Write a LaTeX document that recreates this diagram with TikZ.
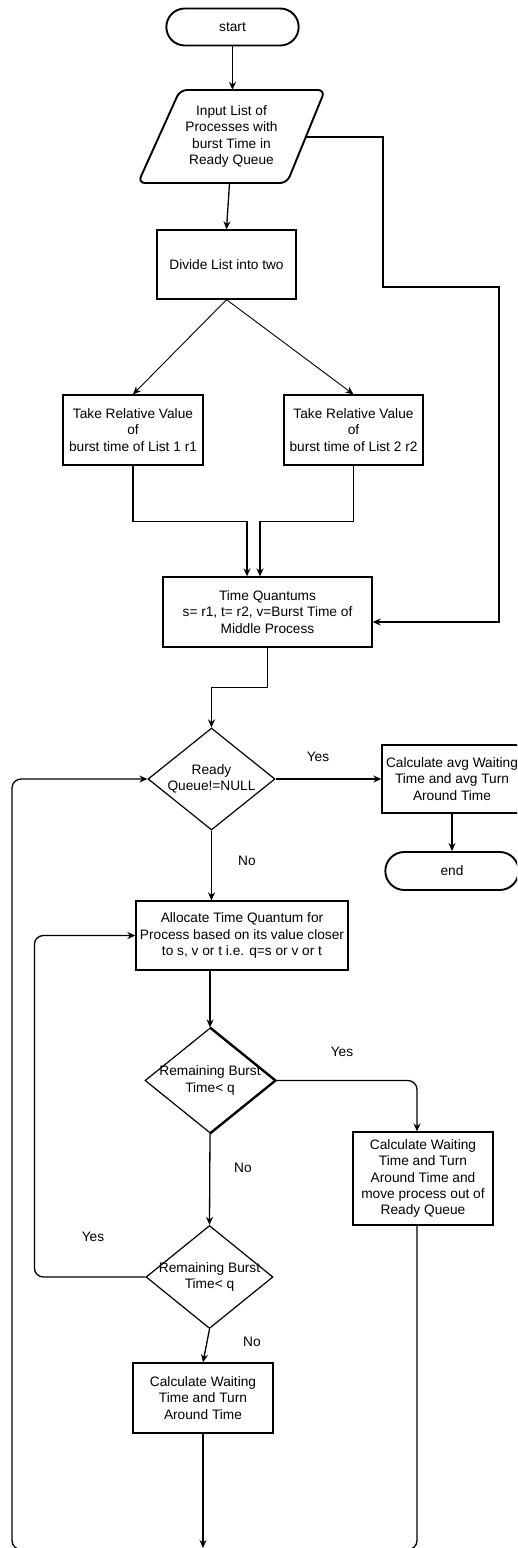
\documentclass[tikz,border=0pt]{standalone}
\usepackage{fontspec}
\setmainfont{Liberation Sans}
\usetikzlibrary{shapes.geometric,shapes.misc,arrows.meta,calc}
\begin{document}
\begin{tikzpicture}[x=1pt,y=1pt,
  every node/.style={font=\fontsize{13.7}{16.3}\selectfont, align=center, text=black},
  box/.style={draw, line width=1.3pt, minimum width=140pt, minimum height=70pt, inner sep=1pt},
  term/.style={draw, rounded rectangle, line width=1.9pt, minimum width=139pt, minimum height=37pt},
  dia/.style={draw, diamond, line width=1.2pt, inner sep=0pt},
  arr/.style={line width=1.3pt, -{Stealth[length=8pt,width=7pt]}},
  thinarr/.style={line width=0.9pt, -{Stealth[length=8pt,width=7pt]}},
  lab/.style={inner sep=0pt}
]
\useasboundingbox (0,0) rectangle (517,-1548);
\clip (0,0) rectangle (517,-1548);

% nodes
\node[term] (start) at (232.5,-27) {start};
\draw[line width=1.9pt, rounded corners=7pt] (180,-90) -- (325,-90) -- (287,-183) -- (138,-183) -- cycle;
\node[minimum height=93pt, inner sep=0pt] (inp) at (231.5,-136.5)
      {Input List of\\Processes with\\burst Time in\\Ready Queue};
\coordinate (inpE) at (306,-137);
\node[box, minimum width=139pt, minimum height=69pt] (div) at (226.5,-264.5) {Divide List into two};
\node[box] (l1) at (133,-430) {Take Relative Value\\of\\burst time of List 1 r1};
\node[box, minimum width=139pt] (r1) at (353.5,-430) {Take Relative Value\\of\\burst time of List 2 r2};
\node[box, minimum width=209pt] (tq) at (267.5,-612) {Time Quantums\\s= r1, t= r2, v=Burst Time of\\Middle Process};
\node[dia, minimum width=127pt, minimum height=102pt] (d1) at (211.5,-779) {};
\node at (d1) {Ready\\Queue!=NULL};
\node[box, minimum height=68pt] (avg) at (452,-779) {Calculate avg Waiting\\Time and avg Turn\\Around Time};
\node[term, minimum width=140pt, minimum height=38pt] (end) at (452,-871) {end};
\node[box, minimum width=212pt, minimum height=69pt] (alloc) at (242,-935.5) {Allocate Time Quantum for\\Process based on its value closer\\to s, v or t i.e. q=s or v or t};
\node[dia, minimum width=130pt, minimum height=105pt] (d2) at (210,-1080.5) {};
\draw[line width=2.2pt] (d2.north) -- (d2.east) -- (d2.south);
\node at (d2) {Remaining Burst\\Time< q};
\node[box, minimum height=93pt] (box2) at (423,-1178.5) {Calculate Waiting\\Time and Turn\\Around Time and\\move process out of\\Ready Queue};
\node[dia, minimum width=127pt, minimum height=103pt] (d3) at (209.5,-1277) {};
\node at (d3) {Remaining Burst\\Time< q};
\node[box] (box3) at (203,-1398) {Calculate Waiting\\Time and Turn\\Around Time};
\coordinate (bot) at (203,-1548);
\coordinate (bl) at (12,-1549.5);

% labels
\node[lab] (yes1) at (318,-757) {Yes};
\node[lab] (no1) at (247,-861) {No};
\node[lab] (yes2) at (342,-1052) {Yes};
\node[lab] (no2) at (243,-1168) {No};
\node[lab] (yes3) at (93,-1237) {Yes};
\node[lab] (no3) at (252,-1342) {No};

% connectors
\draw[arr] (start.south) -- (start.south |- inp.north);
\draw[arr] ([xshift=-2pt]inp.south) -- (div.north);
\draw[arr] (inpE) -| (383,-287) -- (499,-287) |- ([yshift=-10pt]tq.east);
\draw[thinarr] (div.south) -- (l1.north);
\draw[thinarr] (div.south) -- (r1.north);
\draw[arr] (l1.south) -- ++(0,-56) -| ([xshift=-20.5pt]tq.north);
\draw[arr] (r1.south) -- ++(0,-56) -| ([xshift=-7.5pt]tq.north);
\draw[arr] (tq.south) -- ++(0,-40) -| (d1.north);
\draw[arr] (d1.east) -- (d1.east -| avg.west);
\draw[arr] (avg.south) -- (end.north);
\draw[arr] (d1.south) -- (d1.south |- alloc.north);
\draw[arr] (alloc.south -| d2.north) -- (d2.north);
\draw[arr, rounded corners=9pt] (d2.east) -| ([xshift=-6pt]box2.north);
\draw[arr] (d2.south) -- (d3.north);
\draw[arr, rounded corners=9pt] (d3.west) -- ++(-111,0) |- (alloc.west);
\draw[arr] (d3.south) -- (box3.north);
\draw[arr] (box3.south) -- (bot);
\draw[arr, rounded corners=9pt] ([xshift=-6pt]box2.south) |- (bl) |- (d1.west);
\end{tikzpicture}
\end{document}
